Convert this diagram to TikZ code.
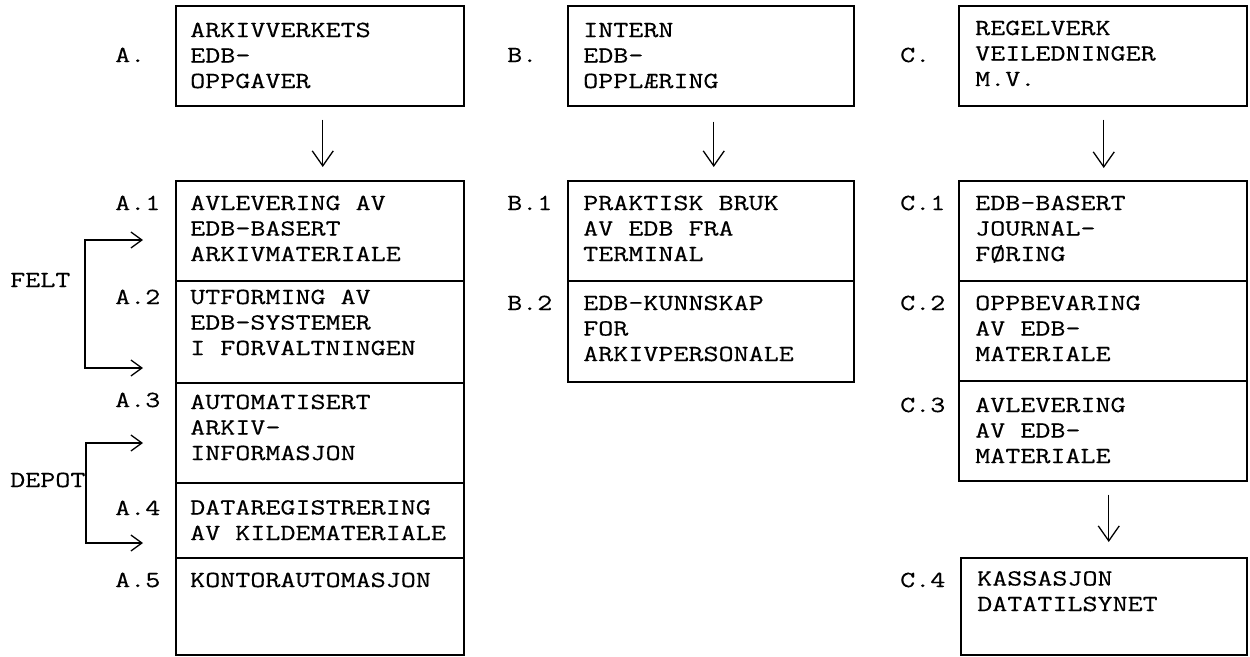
\documentclass[tikz,border=0pt]{standalone}
\usepackage{fontspec}
\newfontfamily\typew{Latin Modern Mono}[FakeStretch=1.27,FakeBold=0.4]
\usetikzlibrary{arrows.meta}
\begin{document}
\begin{tikzpicture}[x=1pt,y=-1pt,
  cell/.style={draw, line width=1.5pt, rectangle, inner sep=0pt, anchor=north west, minimum width=288pt},
  txt/.style={font=\typew\fontsize{23}{25.5}\selectfont, align=left, inner sep=0pt, anchor=base west},
  lbl/.style={font=\typew\fontsize{23}{25.5}\selectfont, inner sep=0pt, anchor=base west},
  arr/.style={line width=1.3pt, -{Straight Barb[length=15pt,width=21pt]}},
  barr/.style={line width=1.3pt, {Straight Barb[length=11pt,width=16pt]}-{Straight Barb[length=11pt,width=16pt]}}
]
\useasboundingbox[fill=white] (0,0) rectangle (1250,656);

% column A
\node[cell, minimum height=100pt] (Atop) at (175,5) {};
\node[cell, minimum height=100pt] (A1) at (175,180) {};
\node[cell, minimum height=102pt] (A2) at (175,280) {};
\node[cell, minimum height=100pt] (A3) at (175,382) {};
\node[cell, minimum height=75pt] (A4) at (175,482) {};
\node[cell, minimum height=97pt] (A5) at (175,557) {};

% column B
\node[cell, minimum width=286pt, minimum height=100pt] (Btop) at (567,5) {};
\node[cell, minimum width=286pt, minimum height=100pt] (B1) at (567,180) {};
\node[cell, minimum width=286pt, minimum height=101pt] (B2) at (567,280) {};

% column C
\node[cell, minimum height=100pt] (Ctop) at (958,5) {};
\node[cell, minimum height=100pt] (C1) at (958,180) {};
\node[cell, minimum height=100pt] (C2) at (958,280) {};
\node[cell, minimum height=100pt] (C3) at (958,380) {};
\node[cell, minimum width=286pt, minimum height=97pt] (C4) at (960,557) {};

% box texts (anchored at the baseline of the last line)
\node[txt] (tAtop) at (190,88) {ARKIVVERKETS\\EDB-\\OPPGAVER};
\node[txt] (tA1) at (190,261) {AVLEVERING AV\\EDB-BASERT\\ARKIVMATERIALE};
\node[txt] (tA2) at (190,355) {UTFORMING AV\\EDB-SYSTEMER\\I FORVALTNINGEN};
\node[txt] (tA3) at (190,460) {AUTOMATISERT\\ARKIV-\\INFORMASJON};
\node[txt] (tA4) at (190,540) {DATAREGISTRERING\\AV KILDEMATERIALE};
\node[txt] (tA5) at (190,587) {KONTORAUTOMASJON};

\node[txt] (tBtop) at (583,88) {INTERN\\EDB-\\OPPLÆRING};
\node[txt] (tB1) at (583,261) {PRAKTISK BRUK\\AV EDB FRA\\TERMINAL};
\node[txt] (tB2) at (583,361) {EDB-KUNNSKAP\\FOR\\ARKIVPERSONALE};

\node[txt] (tCtop) at (975,86) {REGELVERK\\VEILEDNINGER\\M.V.};
\node[txt] (tC1) at (975,261) {EDB-BASERT\\JOURNAL-\\FØRING};
\node[txt] (tC2) at (975,361) {OPPBEVARING\\AV EDB-\\MATERIALE};
\node[txt] (tC3) at (975,463) {AVLEVERING\\AV EDB-\\MATERIALE};
\node[txt] (tC4) at (977,611) {KASSASJON\\DATATILSYNET};

% labels
\node[lbl] (lA) at (115,62) {A.};
\node[lbl] (lA1) at (115,210) {A.1};
\node[lbl] (lA2) at (115,304) {A.2};
\node[lbl] (lA3) at (115,407) {A.3};
\node[lbl] (lA4) at (115,515) {A.4};
\node[lbl] (lA5) at (115,587) {A.5};
\node[lbl] (lB) at (507,62) {B.};
\node[lbl] (lB1) at (507,210) {B.1};
\node[lbl] (lB2) at (507,310) {B.2};
\node[lbl] (lC) at (900,62) {C.};
\node[lbl] (lC1) at (900,210) {C.1};
\node[lbl] (lC2) at (900,310) {C.2};
\node[lbl] (lC3) at (900,412) {C.3};
\node[lbl] (lC4) at (900,587) {C.4};
\node[lbl] (felt) at (10,287) {FELT};
\node[lbl] (depot) at (10,487) {DEPOT};

% vertical arrows
\draw[arr] ([xshift=3pt,yshift=-13pt]Atop.south) -- ([xshift=3pt,yshift=13pt]A1.north);
\draw[arr] ([xshift=3pt,yshift=-15pt]Btop.south) -- ([xshift=3pt,yshift=13pt]B1.north);
\draw[arr] ([xshift=1pt,yshift=-13pt]Ctop.south) -- ([xshift=1pt,yshift=12pt]C1.north);
\draw[arr] ([xshift=6pt,yshift=-13pt]C3.south) -- ([xshift=5pt,yshift=15pt]C4.north);

% bracket arrows
\coordinate (f1) at (143,240);
\coordinate (f2) at (143,368);
\coordinate (d1) at (143,443);
\coordinate (d2) at (143,543);
\draw[barr] (f1) -| (85,300) |- (f2);
\draw[barr] (d1) -| (86,490) |- (d2);
\end{tikzpicture}
\end{document}
